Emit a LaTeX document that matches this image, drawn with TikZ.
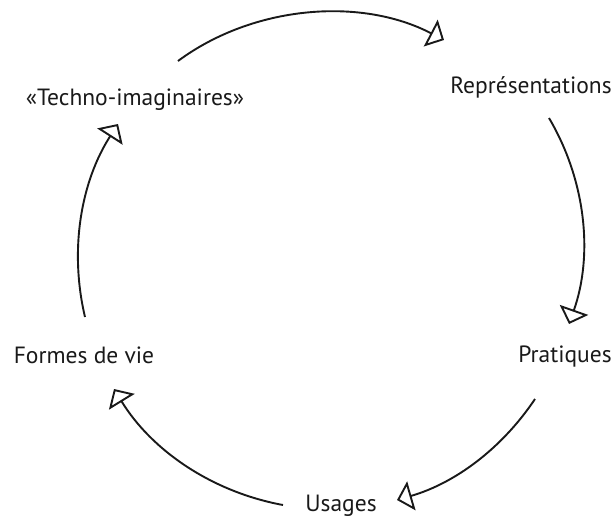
\documentclass[tikz,border=0pt]{standalone}
\usepackage{fontspec}
\setmainfont{PT Sans}
\usetikzlibrary{arrows.meta}
\begin{document}
\begin{tikzpicture}[x=1pt,y=-1pt,
  lbl/.style={anchor=base,inner sep=0pt,font=\fontsize{23.5}{28}\selectfont,text=black!90},
  cyc/.style={line width=1.9pt,draw=black!90,-{Triangle[open,length=15pt,width=30pt,line width=1.9pt]},looseness=0.9}]
\useasboundingbox (0,0) rectangle (616,517);
% labels
\node[lbl] (techno) at (135,105) {«Techno-imaginaires»};
\node[lbl] (repr) at (531,93) {Représentations};
\node[lbl] (prat) at (565,362) {Pratiques};
\node[lbl] (usag) at (341,511) {Usages};
\node[lbl] (form) at (84,363) {Formes de vie};
% arc end points
\coordinate (s1) at (178,61);
\coordinate (e1) at (444,40);
\coordinate (s2) at (549,118);
\coordinate (e2) at (569,324);
\coordinate (s3) at (535,399);
\coordinate (e3) at (397,500);
\coordinate (s4) at (283,505);
\coordinate (e4) at (114,389);
\coordinate (s5) at (85,317);
\coordinate (e5) at (118,124);
% connectors
\draw[cyc] (s1) to[bend left=32] (e1);
\draw[cyc] (s2) to[bend left=25] (e2);
\draw[cyc] (s3) to[bend left=20] (e3);
\draw[cyc] (s4) to[bend left=24] (e4);
\draw[cyc] (s5) to[bend left=23] (e5);
\end{tikzpicture}
\end{document}
